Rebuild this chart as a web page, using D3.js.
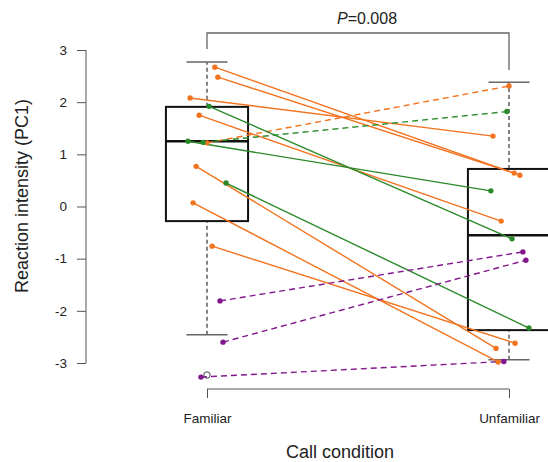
<!DOCTYPE html>
<html>
<head>
<meta charset="utf-8">
<script src="https://cdn.jsdelivr.net/npm/d3@7"></script>
<style>
  body { margin: 0; background: #fff; }
  text { font-family: "Liberation Sans", Arial, sans-serif; fill: #222; }
</style>
</head>
<body>
<svg id="chart" width="548" height="462"></svg>
<script>
// conditions and tick labels
var conditions = ["Familiar", "Unfamiliar"];
var yTicks = [-3, -2, -1, 0, 1, 2, 3];

// paired subjects: colour group, line type, PC1 values and jitter (in category units)
var pairGroup = ["orange", "orange", "orange", "orange", "orange", "orange", "orange", "orange",
                 "green", "green", "green", "green",
                 "purple", "purple", "purple"];
var pairDashed = [false, false, false, false, false, false, false, true,
                  false, false, false, true,
                  true, true, true];
var famValues = [2.67, 2.48, 2.08, 1.75, 0.77, 0.07, -0.76, 1.22,
                 1.92, 1.25, 0.45, 1.23,
                 -1.81, -2.60, -3.27];
var famJitter = [0.026, 0.036, -0.056, -0.026, -0.036, -0.046, 0.017, 0.0,
                 0.007, -0.063, 0.063, -0.013,
                 0.043, 0.053, -0.020];
var unfValues = [0.60, 0.64, 1.35, -0.28, -2.72, -2.98, -2.62, 2.31,
                 -0.62, 0.30, -2.33, 1.82,
                 -0.87, -1.03, -2.97];
var unfJitter = [0.036, 0.017, -0.053, -0.026, -0.043, -0.036, 0.020, 0.0,
                 0.010, -0.060, 0.066, -0.007,
                 0.046, 0.056, -0.017];

// boxplot stats: lower whisker, q1, median, q3, upper whisker
var boxStats = [
  [-2.46, -0.28, 1.25, 1.91, 2.77],
  [-2.94, -2.37, -0.55, 0.72, 2.38]
];
var outliers = [[-3.23], []];
var pLabel = "0.008";

var colors = { orange: "#f27420", green: "#2a8a2a", purple: "#82168c" };

var svg = d3.select("#chart");

var x = d3.scaleLinear().domain([1, 2]).range([207, 509]);
var y = d3.scaleLinear().domain([-3, 3]).range([363, 50]);

var boxHalf = 0.136, capHalf = 0.068;

// boxes
boxStats.forEach(function(s, i) {
  var cx = i + 1;
  var g = svg.append("g");
  g.append("line")
    .attr("x1", x(cx)).attr("x2", x(cx))
    .attr("y1", y(s[3])).attr("y2", y(s[4]))
    .attr("stroke", "#333").attr("stroke-width", 1.2).attr("stroke-dasharray", "4,3");
  g.append("line")
    .attr("x1", x(cx)).attr("x2", x(cx))
    .attr("y1", y(s[0])).attr("y2", y(s[1]))
    .attr("stroke", "#333").attr("stroke-width", 1.2).attr("stroke-dasharray", "4,3");
  [s[0], s[4]].forEach(function(v) {
    g.append("line")
      .attr("x1", x(cx - capHalf)).attr("x2", x(cx + capHalf))
      .attr("y1", y(v)).attr("y2", y(v))
      .attr("stroke", "#666").attr("stroke-width", 1.5);
  });
  g.append("rect")
    .attr("x", x(cx - boxHalf)).attr("width", x(cx + boxHalf) - x(cx - boxHalf))
    .attr("y", y(s[3])).attr("height", y(s[1]) - y(s[3]))
    .attr("fill", "none").attr("stroke", "#111").attr("stroke-width", 2);
  g.append("line")
    .attr("x1", x(cx - boxHalf)).attr("x2", x(cx + boxHalf))
    .attr("y1", y(s[2])).attr("y2", y(s[2]))
    .attr("stroke", "#111").attr("stroke-width", 2.5);
  outliers[i].forEach(function(v) {
    g.append("circle")
      .attr("cx", x(cx)).attr("cy", y(v)).attr("r", 3.2)
      .attr("fill", "none").attr("stroke", "#444").attr("stroke-width", 1);
  });
});

// paired lines
var pairs = famValues.map(function(v, i) {
  return { group: pairGroup[i], dashed: pairDashed[i],
           f: v, fj: famJitter[i], u: unfValues[i], uj: unfJitter[i] };
});

svg.append("g").selectAll("line").data(pairs).join("line")
  .attr("x1", function(d) { return x(1 + d.fj); })
  .attr("y1", function(d) { return y(d.f); })
  .attr("x2", function(d) { return x(2 + d.uj); })
  .attr("y2", function(d) { return y(d.u); })
  .attr("stroke", function(d) { return colors[d.group]; })
  .attr("stroke-width", 1.4)
  .attr("stroke-dasharray", function(d) { return d.dashed ? "6,4" : null; });

var dots = svg.append("g");
pairs.forEach(function(d) {
  dots.append("circle").attr("cx", x(1 + d.fj)).attr("cy", y(d.f)).attr("r", 2.7)
    .attr("fill", colors[d.group]);
  dots.append("circle").attr("cx", x(2 + d.uj)).attr("cy", y(d.u)).attr("r", 2.7)
    .attr("fill", colors[d.group]);
});

// y axis
var yAxis = svg.append("g")
  .attr("transform", "translate(86,0)")
  .call(d3.axisLeft(y).tickValues(yTicks).tickSize(9).tickPadding(10)
    .tickFormat(function(d) { return String(d); }));
yAxis.select(".domain").attr("stroke", "#555").attr("d", "M0," + y(3) + "V" + y(-3));
yAxis.selectAll(".tick line").attr("stroke", "#555");
yAxis.selectAll(".tick text").attr("font-size", 13.5).style("font-family", "Liberation Sans, Arial, sans-serif").attr("fill", "#222");

// x axis
var xAxis = svg.append("g")
  .attr("transform", "translate(0,389)")
  .call(d3.axisBottom(x).tickValues([1, 2]).tickSize(9).tickPadding(15)
    .tickFormat(function(d) { return conditions[d - 1]; }));
xAxis.select(".domain").attr("stroke", "#555").attr("d", "M" + x(1) + ",0H" + x(2));
xAxis.selectAll(".tick line").attr("stroke", "#555");
xAxis.selectAll(".tick text").attr("font-size", 13.5).style("font-family", "Liberation Sans, Arial, sans-serif").attr("fill", "#222");

// axis titles
svg.append("text")
  .attr("transform", "translate(28,196) rotate(-90)")
  .attr("text-anchor", "middle")
  .attr("font-size", 18)
  .text("Reaction intensity (PC1)");

svg.append("text")
  .attr("x", 340).attr("y", 458)
  .attr("text-anchor", "middle")
  .attr("font-size", 18)
  .text("Call condition");

// significance bracket
svg.append("path")
  .attr("d", "M" + x(1) + ",49V33H" + x(2) + "V70")
  .attr("fill", "none").attr("stroke", "#666").attr("stroke-width", 1.3);

var pt = svg.append("text")
  .attr("x", x(1.5) + 9).attr("y", 24)
  .attr("text-anchor", "middle")
  .attr("font-size", 16);
pt.append("tspan").attr("font-style", "italic").text("P");
pt.append("tspan").text("=" + pLabel);
</script>
</body>
</html>
